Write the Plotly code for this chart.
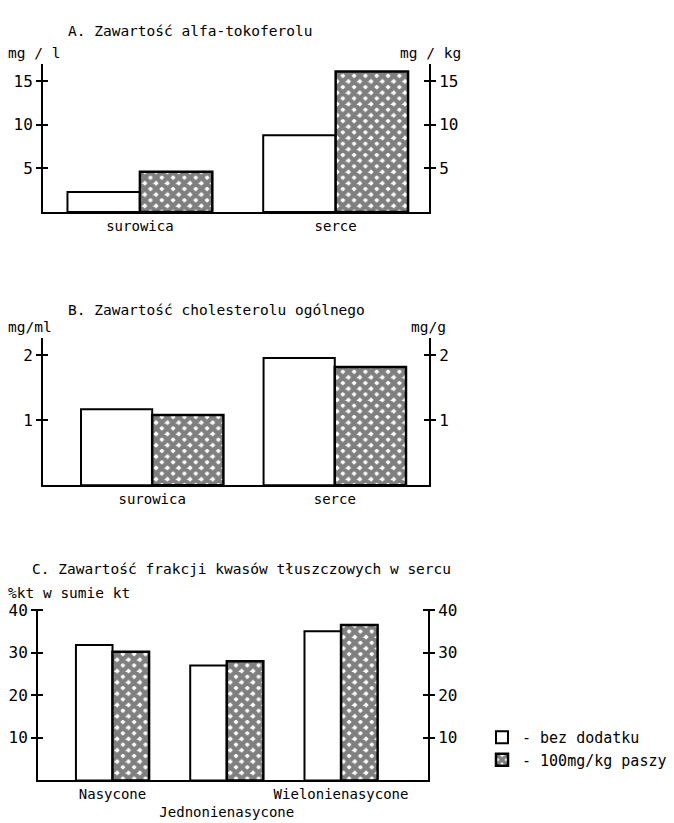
import plotly.graph_objects as go

W, H = 674, 823

# ---------------- data ----------------
series_names = ["- bez dodatku", "- 100mg/kg paszy"]

a_categories = ["surowica", "serce"]
a_bez = [2.3, 8.8]
a_dodatek = [4.6, 16.1]
a_ticks = [5, 10, 15]

b_categories = ["surowica", "serce"]
b_bez = [1.17, 1.96]
b_dodatek = [1.08, 1.82]
b_ticks = [1, 2]

c_categories = ["Nasycone", "Jednonienasycone", "Wielonienasycone"]
c_ticktext = ["Nasycone", "<br>Jednonienasycone", "Wielonienasycone"]
c_bez = [31.8, 27.0, 35.0]
c_dodatek = [30.2, 28.0, 36.5]
c_ticks = [10, 20, 30, 40]

FONT = "DejaVu Sans Mono"
fig = go.Figure()


def px_x(p):
    return p / W


def px_y(p):
    return 1 - p / H


def add_panel(idx, cats, v1, v2, ticks, xdom_px, ydom_px, xrange, yrange, w,
              ticktext=None, legend=False):
    xa = "x" if idx == 1 else f"x{idx}"
    base = 4 * (idx - 1) + 1
    ya = ["y" if base == 1 else f"y{base}"] + [f"y{base + k}" for k in range(1, 4)]
    xname = "xaxis" if idx == 1 else f"xaxis{idx}"
    ynames = ["yaxis" if base == 1 else f"yaxis{base}"] + [f"yaxis{base + k}" for k in range(1, 4)]

    fig.add_trace(go.Bar(
        x=cats, y=v1, xaxis=xa, yaxis=ya[0], width=w, offset=-w,
        name=series_names[0], legendgroup="g1", showlegend=legend,
        marker=dict(color="white", line=dict(color="black", width=2)),
    ))
    fig.add_trace(go.Bar(
        x=cats, y=v2, xaxis=xa, yaxis=ya[0], width=w, offset=0,
        name=series_names[1], legendgroup="g2", showlegend=legend,
        marker=dict(color="white",
                    pattern=dict(shape="x", fgcolor="black", bgcolor="white",
                                 size=8, solidity=0.8),
                    line=dict(color="black", width=2.5)),
    ))
    # empty helper traces so that the overlaying (right / inside-tick) axes are drawn
    for k in range(1, 4):
        fig.add_trace(go.Scatter(x=cats, y=[None] * len(cats), xaxis=xa, yaxis=ya[k],
                                 mode="markers", showlegend=False, hoverinfo="skip"))

    xdom = [px_x(xdom_px[0]), px_x(xdom_px[1])]
    ydom = [px_y(ydom_px[0]), px_y(ydom_px[1])]
    tickfont = dict(family=FONT, size=16, color="black")

    fig.layout[xname] = dict(
        domain=xdom, range=xrange, anchor=ya[0], showline=True, linecolor="black",
        linewidth=2, ticks="", showgrid=False, zeroline=False, tickangle=0,
        tickvals=cats, ticktext=ticktext if ticktext else cats,
        tickfont=dict(family=FONT, size=14, color="black"), fixedrange=True,
    )
    common = dict(range=yrange, tickvals=ticks, showgrid=False, zeroline=False,
                  tickfont=tickfont, tickcolor="black", tickwidth=2, ticklen=5,
                  fixedrange=True)
    fig.layout[ynames[0]] = dict(domain=ydom, anchor=xa, side="left", showline=True,
                                 linecolor="black", linewidth=2, ticks="outside", **common)
    fig.layout[ynames[1]] = dict(overlaying=ya[0], anchor=xa, side="right", showline=True,
                                 linecolor="black", linewidth=2, ticks="outside", **common)
    fig.layout[ynames[2]] = dict(overlaying=ya[0], anchor=xa, side="left", showline=False,
                                 ticks="inside", showticklabels=False, **common)
    fig.layout[ynames[3]] = dict(overlaying=ya[0], anchor=xa, side="right", showline=False,
                                 ticks="inside", showticklabels=False, **common)


add_panel(1, a_categories, a_bez, a_dodatek, a_ticks, (43, 429), (206, 57),
          [-0.495, 1.477], [0, 16.9], 0.37, legend=True)
add_panel(2, b_categories, b_bez, b_dodatek, b_ticks, (43, 429), (482, 333),
          [-0.598, 1.516], [0, 2.27], 0.39)
add_panel(3, c_categories, c_bez, c_dodatek, c_ticks, (38, 428), (780, 606.7),
          [-0.652, 2.761], [0, 40.3], 0.32, ticktext=c_ticktext)

txt = dict(family=FONT, size=14.5, color="black")
annotations = [
    ("A. Zawartość alfa-tokoferolu", 66, 23, "left"),
    ("mg / l", 6, 45, "left"),
    ("mg / kg", 430, 45, "center"),
    ("B. Zawartość cholesterolu ogólnego", 66, 305, "left"),
    ("mg/ml", 6, 322, "left"),
    ("mg/g", 428, 322, "center"),
    ("C. Zawartość frakcji kwasów tłuszczowych w sercu", 30, 567, "left"),
    ("%kt w sumie kt", 6, 591, "left"),
]
for text, x, y, anchor in annotations:
    fig.add_annotation(text=text, x=px_x(x), y=px_y(y), xref="paper", yref="paper",
                       xanchor=anchor, yanchor="middle", showarrow=False, font=txt)

fig.update_layout(
    width=W, height=H, margin=dict(l=0, r=0, t=0, b=0),
    paper_bgcolor="white", plot_bgcolor="white", barmode="overlay",
    legend=dict(x=px_x(482), y=px_y(720), xanchor="left", yanchor="top",
                font=dict(family=FONT, size=15, color="black"),
                bgcolor="rgba(0,0,0,0)", tracegroupgap=18, traceorder="normal"),
    font=dict(family=FONT, color="black"),
)

fig.write_html("out.html", config={"displayModeBar": False},
               post_script="document.body.style.margin='0';")
